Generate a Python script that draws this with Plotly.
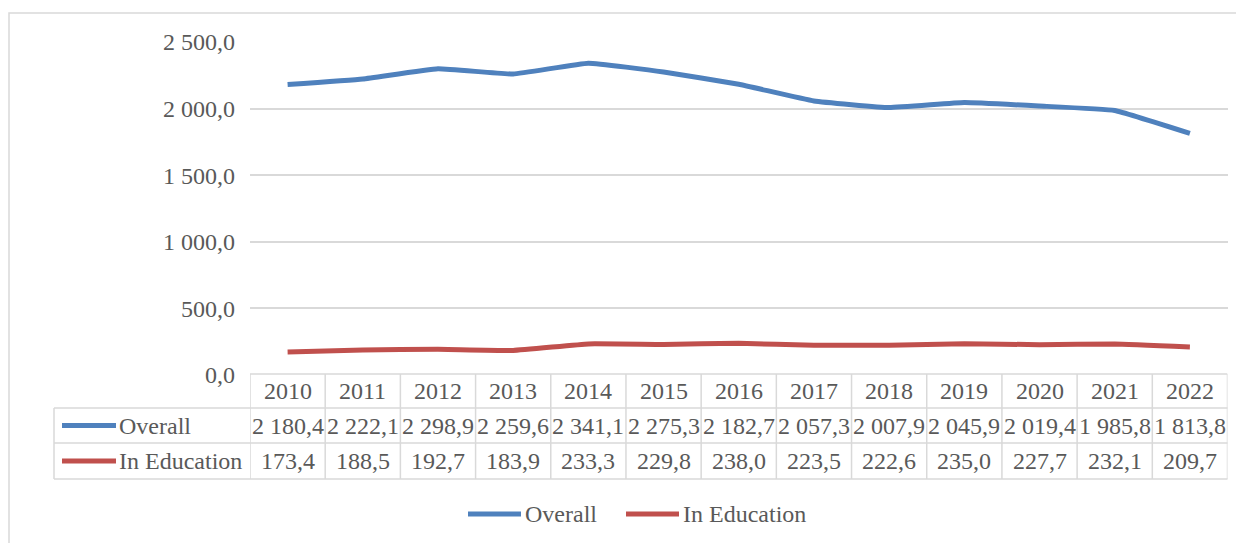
import plotly.graph_objects as go

years = ["2010", "2011", "2012", "2013", "2014", "2015", "2016", "2017", "2018", "2019", "2020", "2021", "2022"]
overall = [2180.4, 2222.1, 2298.9, 2259.6, 2341.1, 2275.3, 2182.7, 2057.3, 2007.9, 2045.9, 2019.4, 1985.8, 1813.8]
education = [173.4, 188.5, 192.7, 183.9, 233.3, 229.8, 238.0, 223.5, 222.6, 235.0, 227.7, 232.1, 209.7]
series_names = ["Overall", "In Education"]
series_colors = ["#4F81BD", "#C0504D"]
y_ticks = [0, 500, 1000, 1500, 2000, 2500]

W, H = 1244, 543
OFF = 8  # page body margin
FONT = "Liberation Serif, Times New Roman, serif"
TXT = "#595959"
GRID = "#D9D9D9"


def fmt(v):
    s = f"{v:,.1f}"
    return s.replace(",", " ").replace(".", ",")


def py(px):
    return 1 - (px - OFF) / H


def pxx(px):
    return (px - OFF) / W


xs = list(range(len(years)))
fig = go.Figure()
for name, vals, col in zip(series_names, [overall, education], series_colors):
    fig.add_trace(go.Scatter(x=xs, y=vals, mode="lines", name=name,
                             line=dict(color=col, width=5, shape="spline", smoothing=0.3),
                             showlegend=False, hoverinfo="skip"))

shapes = []
annotations = []
# outer border
shapes.append(dict(type="rect", xref="paper", yref="paper", x0=pxx(9), x1=1.05, y0=-0.05, y1=py(13),
                   line=dict(color=GRID, width=1.5), layer="below"))

# table geometry (pixel rows)
r_top, r1, r2, r_bot = 374, 408, 443, 479
n = len(years)
lw = dict(color=GRID, width=1.5)
shapes.append(dict(type="line", xref="x", yref="paper", x0=-0.5, x1=n - 0.5, y0=py(r_top), y1=py(r_top), line=lw))
for r in [r1, r2, r_bot]:
    shapes.append(dict(type="line", xref="paper", yref="paper", x0=pxx(54), x1=pxx(1227.5), y0=py(r), y1=py(r), line=lw))
for i in range(n + 1):
    shapes.append(dict(type="line", xref="x", yref="paper", x0=i - 0.5, x1=i - 0.5, y0=py(r_top), y1=py(r_bot), line=lw))
shapes.append(dict(type="line", xref="paper", yref="paper", x0=pxx(54), x1=pxx(54), y0=py(r1), y1=py(r_bot), line=lw))

fs = 24
tfont = dict(family=FONT, size=fs, color=TXT)
for i, yr in enumerate(years):
    for (ra, rb), txt in zip([(r_top, r1), (r1, r2), (r2, r_bot)], [yr, fmt(overall[i]), fmt(education[i])]):
        annotations.append(dict(x=i, y=py((ra + rb) / 2), xref="x", yref="paper", text=txt, showarrow=False,
                                xanchor="center", yanchor="middle", font=tfont))

# row legend keys in table
for (ry0, ry1), name, col in zip([(r1, r2), (r2, r_bot)], series_names, series_colors):
    yc = py((ry0 + ry1) / 2)
    shapes.append(dict(type="line", xref="paper", yref="paper", x0=pxx(62), x1=pxx(116), y0=yc, y1=yc,
                       line=dict(color=col, width=5)))
    annotations.append(dict(x=pxx(117), y=yc, xref="paper", yref="paper", text=name, showarrow=False,
                            xanchor="left", yanchor="middle", font=tfont))

# bottom legend
ly = py(514)
for (x0, x1, tx), name, col in zip([(468, 521, 523), (626, 679, 681)], series_names, series_colors):
    shapes.append(dict(type="line", xref="paper", yref="paper", x0=pxx(x0), x1=pxx(x1), y0=ly, y1=ly,
                       line=dict(color=col, width=5)))
    annotations.append(dict(x=pxx(tx), y=ly, xref="paper", yref="paper", text=name, showarrow=False,
                            xanchor="left", yanchor="middle", font=tfont))

fig.update_layout(
    width=W, height=H, autosize=False,
    margin=dict(l=0, r=0, t=0, b=0, pad=0, autoexpand=False),
    paper_bgcolor="white", plot_bgcolor="white",
    shapes=shapes, annotations=annotations,
    xaxis=dict(domain=[pxx(250), pxx(1227.5)], range=[-0.5, n - 0.5], showgrid=False, zeroline=False,
               showticklabels=False, showline=False, fixedrange=True, automargin=False),
    yaxis=dict(domain=[py(375), py(42)], range=[0, 2500], tickvals=y_ticks, ticktext=[fmt(v) for v in y_ticks],
               showgrid=True, gridcolor=GRID, gridwidth=1.5, zeroline=False, showline=False,
               ticks="", ticklabelstandoff=14, automargin=False,
               tickfont=tfont, fixedrange=True),
    showlegend=False,
)
fig.write_html("out.html")
